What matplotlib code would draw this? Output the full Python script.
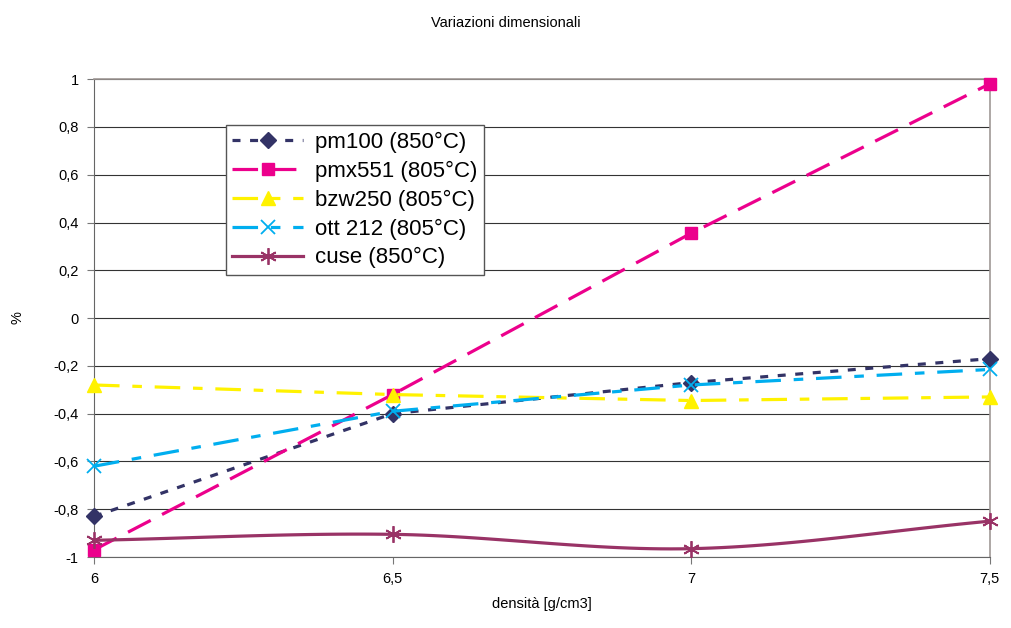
import matplotlib
matplotlib.use('Agg')
import matplotlib.pyplot as plt
import numpy as np

plt.rcParams['font.family'] = ['Liberation Sans', 'DejaVu Sans']

density = [6, 6.5, 7, 7.5]
pm100 = [-0.83, -0.40, -0.27, -0.17]
pmx551 = [-0.97, -0.32, 0.355, 0.98]
bzw250 = [-0.28, -0.32, -0.345, -0.33]
ott212 = [-0.62, -0.39, -0.28, -0.215]
cuse = [-0.93, -0.905, -0.965, -0.85]

labels = ['pm100 (850°C)', 'pmx551 (805°C)', 'bzw250 (805°C)', 'ott 212 (805°C)', 'cuse (850°C)']
colors = ['#333366', '#EC008C', '#FFF200', '#00AEEF', '#993366']


def smooth(x, y, n=30):
    # catmull-rom style smoothing like Excel's smoothed line
    x = np.asarray(x, float)
    y = np.asarray(y, float)
    px = np.concatenate([[2 * x[0] - x[1]], x, [2 * x[-1] - x[-2]]])
    py = np.concatenate([[2 * y[0] - y[1]], y, [2 * y[-1] - y[-2]]])
    xs, ys = [], []
    for i in range(1, len(px) - 2):
        t = np.linspace(0, 1, n)
        for arr, out in ((px, xs), (py, ys)):
            p0, p1, p2, p3 = arr[i - 1], arr[i], arr[i + 1], arr[i + 2]
            out.extend(0.5 * ((2 * p1) + (-p0 + p2) * t
                              + (2 * p0 - 5 * p1 + 4 * p2 - p3) * t ** 2
                              + (-p0 + 3 * p1 - 3 * p2 + p3) * t ** 3))
    return xs, ys


fig = plt.figure(figsize=(10.12, 6.28), dpi=100)
ax = fig.add_axes([0.0929, 0.113, 0.885, 0.761])

lw = 2.3
ax.plot(density, pm100, color=colors[0], lw=lw, dashes=(2.5, 3), marker='D', ms=8,
        label=labels[0], clip_on=False, zorder=3)
ax.plot(density, pmx551, color=colors[1], lw=lw, dashes=(8, 4), marker='s', ms=9,
        label=labels[1], clip_on=False, zorder=3)
ax.plot(density, bzw250, color=colors[2], lw=lw, dashes=(8, 4, 3, 4), marker='^', ms=10,
        label=labels[2], clip_on=False, zorder=3)
ax.plot(density, ott212, color=colors[3], lw=lw, dashes=(8, 4, 3, 4), marker='x', ms=10,
        mew=1.3, label=labels[3], clip_on=False, zorder=3)
sx, sy = smooth(density, cuse)
ax.plot(sx, sy, color=colors[4], lw=lw, zorder=3, clip_on=False)
ax.plot(density, cuse, color=colors[4], lw=0, marker=(6, 2, 0), ms=12, mew=1.3,
        clip_on=False, zorder=3)
ax.plot([], [], color=colors[4], lw=lw, marker=(6, 2, 0), ms=12, mew=1.3, label=labels[4])

ax.set_xlim(6, 7.5)
ax.set_ylim(-1, 1)
ax.set_xticks([6, 6.5, 7, 7.5])
ax.set_xticklabels(['6', '6,5', '7', '7,5'], fontsize=10.5)
yt = np.round(np.arange(-1, 1.01, 0.2), 1)
ax.set_yticks(yt)
ax.set_yticklabels([('%g' % (v + 0.0)).replace('.', ',') if abs(v) > 1e-9 else '0' for v in yt],
                   fontsize=10.5)
ax.yaxis.grid(True, color='#333333', lw=0.8)
ax.set_axisbelow(True)
for s in ['top', 'right']:
    ax.spines[s].set_color('#a09896')
    ax.spines[s].set_linewidth(1.2)
ax.spines['left'].set_color('#666666')
ax.spines['bottom'].set_color('#666666')
ax.tick_params(length=5, color='#777777', pad=6)

ax.set_xlabel('densità [g/cm3]', fontsize=10.5, labelpad=8)
fig.text(18 / 1012, 1 - 318 / 628, '%', rotation=90, ha='center', va='center', fontsize=10.5)
fig.text(0.5, 0.975, 'Variazioni dimensionali', ha='center', va='top', fontsize=10.5)

leg = ax.legend(loc='upper left', bbox_to_anchor=(0.147, 0.904), fontsize=16,
                frameon=True, fancybox=False, edgecolor='#555555', framealpha=1,
                handlelength=3.2, handletextpad=0.5, borderpad=0.3, labelspacing=0.35,
                borderaxespad=0)
leg.get_frame().set_linewidth(1.0)

fig.savefig('out.png', dpi=100)
